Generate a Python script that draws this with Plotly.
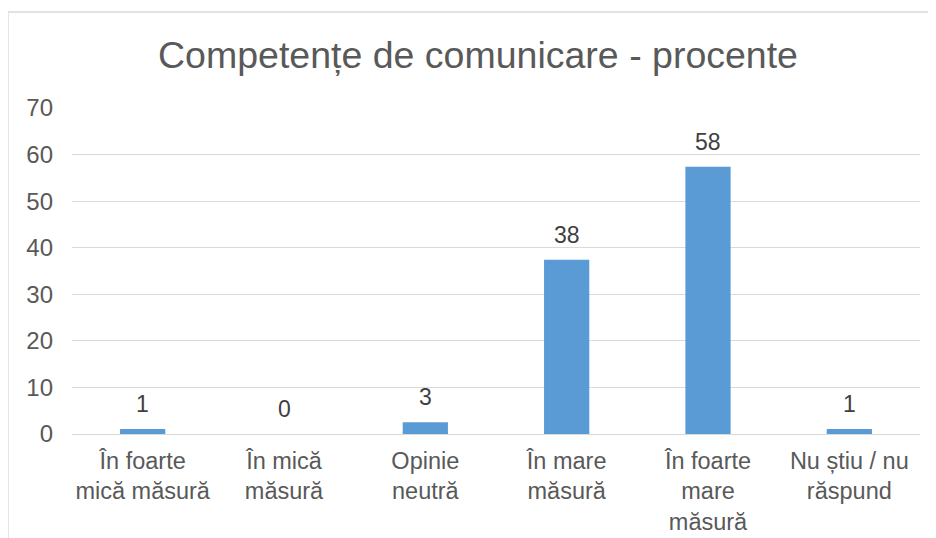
import plotly.graph_objects as go

# Competențe de comunicare - procente
categories = [
    "În foarte<br>mică măsură",
    "În mică<br>măsură",
    "Opinie<br>neutră",
    "În mare<br>măsură",
    "În foarte<br>mare<br>măsură",
    "Nu știu / nu<br>răspund",
]
values = [1.1, 0.0, 2.5, 37.4, 57.4, 1.1]
labels = ["1", "0", "3", "38", "58", "1"]
y_ticks = [0, 10, 20, 30, 40, 50, 60, 70]

FONT = "Liberation Sans, Arial, sans-serif"
# page body adds an 8px offset, so the figure is sized to fill the rest
W, H = 928, 530
L, R, T, B = 64, 16, 100, 104

fig = go.Figure(
    go.Bar(
        x=categories,
        y=values,
        marker=dict(color="#5B9BD5", line=dict(width=0)),
        width=0.32,
        hoverinfo="skip",
    )
)

# data labels above bars
for c, v, t in zip(categories, values, labels):
    fig.add_annotation(
        x=c, y=v, text=t, showarrow=False,
        yanchor="middle", yshift=25,
        font=dict(family=FONT, size=23, color="#404040"),
    )

# outer chart frame (cut off at right and bottom in the original)
pw, ph = W - L - R, H - T - B
fig.add_shape(
    type="rect", xref="paper", yref="paper",
    x0=(0 - L) / pw, x1=(W + 10 - L) / pw,
    y0=-(B + 10) / ph, y1=(H - 4 - B) / ph,
    line=dict(color="#D9D9D9", width=1.3), fillcolor="rgba(0,0,0,0)",
    layer="below",
)

fig.update_layout(
    width=W, height=H,
    margin=dict(l=L, r=R, t=T, b=B, autoexpand=False),
    paper_bgcolor="white",
    plot_bgcolor="white",
    showlegend=False,
    font=dict(family=FONT, size=23, color="#595959"),
    title=dict(
        text="Competențe de comunicare - procente",
        x=470 / W, xanchor="center", xref="container",
        y=1 - 47 / H, yanchor="middle", yref="container",
        font=dict(family=FONT, size=37.5, color="#595959"),
    ),
    xaxis=dict(
        showgrid=False, showline=False, ticks="",
        tickfont=dict(size=23.5, color="#595959"),
        ticklabelstandoff=10,
        automargin=False,
        fixedrange=True,
    ),
    yaxis=dict(
        range=[0, 70], tickvals=y_ticks,
        showgrid=True, gridcolor="#D9D9D9", gridwidth=1.3,
        zeroline=True, zerolinecolor="#D9D9D9", zerolinewidth=1.3,
        showline=False, ticks="",
        tickfont=dict(size=24, color="#595959"),
        ticklabelstandoff=18,
        automargin=False,
        fixedrange=True,
    ),
)

fig.write_html("out.html")
